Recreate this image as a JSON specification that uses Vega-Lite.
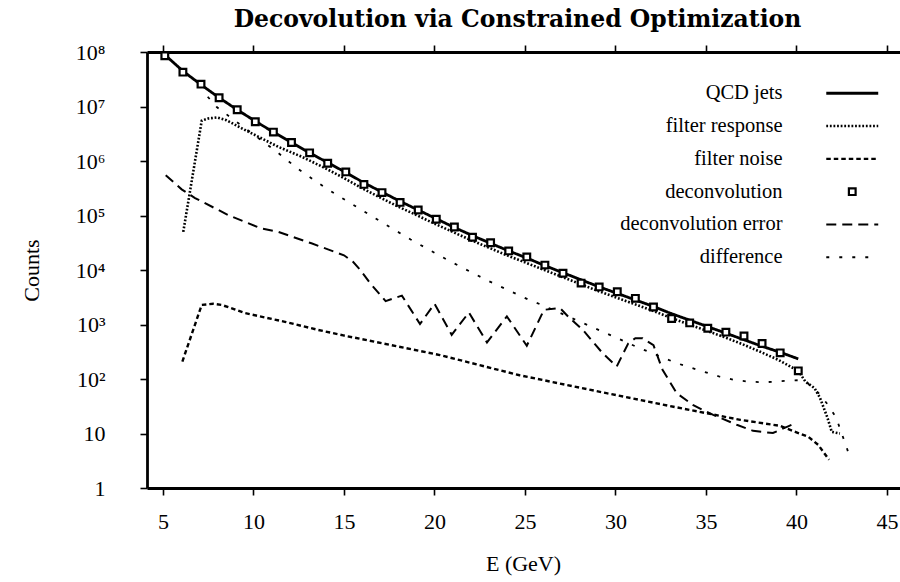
{
  "$schema": "https://vega.github.io/schema/vega-lite/v6.json",
  "width": 753,
  "height": 436,
  "autosize": {"type": "none"},
  "padding": {"left": 147, "top": 52, "right": 0, "bottom": 94},
  "background": "white",
  "title": {"text": "Decovolution via Constrained Optimization", "font": "DejaVu Serif", "fontSize": 23.5, "fontWeight": "bold", "color": "black", "offset": 10, "anchor": "middle", "dx": -6},
  "config": {
    "view": {"stroke": null},
    "axis": {"grid": false, "domainColor": "black", "domainWidth": 2.8, "tickColor": "black", "tickWidth": 1.6, "tickSize": 7, "labelColor": "black", "labelFont": "Liberation Serif", "labelFontSize": 22, "titleColor": "black", "titleFont": "Liberation Serif", "titleFontSize": 22, "titleFontWeight": "normal"}
  },
  "datasets": {
    "lines": [
      {"series": "QCD jets", "E": 5.1, "count": 89000000},
      {"series": "QCD jets", "E": 6.1, "count": 44700000},
      {"series": "QCD jets", "E": 7.1, "count": 25100000},
      {"series": "QCD jets", "E": 8.1, "count": 14500000},
      {"series": "QCD jets", "E": 9.1, "count": 8710000},
      {"series": "QCD jets", "E": 10.1, "count": 5370000},
      {"series": "QCD jets", "E": 11.1, "count": 3390000},
      {"series": "QCD jets", "E": 12.1, "count": 2190000},
      {"series": "QCD jets", "E": 13.1, "count": 1410000},
      {"series": "QCD jets", "E": 14.1, "count": 933000},
      {"series": "QCD jets", "E": 15.1, "count": 617000},
      {"series": "QCD jets", "E": 16.1, "count": 398000},
      {"series": "QCD jets", "E": 17.1, "count": 269000},
      {"series": "QCD jets", "E": 18.1, "count": 182000},
      {"series": "QCD jets", "E": 19.1, "count": 126000},
      {"series": "QCD jets", "E": 20.1, "count": 87100},
      {"series": "QCD jets", "E": 21.1, "count": 60300},
      {"series": "QCD jets", "E": 22.1, "count": 42700},
      {"series": "QCD jets", "E": 23.1, "count": 30900},
      {"series": "QCD jets", "E": 24.1, "count": 22400},
      {"series": "QCD jets", "E": 25.1, "count": 16600},
      {"series": "QCD jets", "E": 26.1, "count": 12000},
      {"series": "QCD jets", "E": 27.1, "count": 8910},
      {"series": "QCD jets", "E": 28.1, "count": 6610},
      {"series": "QCD jets", "E": 29.1, "count": 4900},
      {"series": "QCD jets", "E": 30.1, "count": 3720},
      {"series": "QCD jets", "E": 31.1, "count": 2820},
      {"series": "QCD jets", "E": 32.1, "count": 2140},
      {"series": "QCD jets", "E": 33.1, "count": 1580},
      {"series": "QCD jets", "E": 34.1, "count": 1200},
      {"series": "QCD jets", "E": 35.1, "count": 912},
      {"series": "QCD jets", "E": 36.1, "count": 692},
      {"series": "QCD jets", "E": 37.1, "count": 525},
      {"series": "QCD jets", "E": 38.1, "count": 398},
      {"series": "QCD jets", "E": 39.1, "count": 309},
      {"series": "QCD jets", "E": 40.1, "count": 234},

      {"series": "filter response", "E": 6.12, "count": 50100},
      {"series": "filter response", "E": 7.14, "count": 5500000},
      {"series": "filter response", "E": 7.5, "count": 6030000},
      {"series": "filter response", "E": 8.0, "count": 6310000},
      {"series": "filter response", "E": 8.5, "count": 5620000},
      {"series": "filter response", "E": 9.35, "count": 3980000},
      {"series": "filter response", "E": 10.36, "count": 2690000},
      {"series": "filter response", "E": 11.37, "count": 1820000},
      {"series": "filter response", "E": 12.66, "count": 1200000},
      {"series": "filter response", "E": 13.77, "count": 794000},
      {"series": "filter response", "E": 14.87, "count": 513000},
      {"series": "filter response", "E": 16, "count": 316000},
      {"series": "filter response", "E": 17, "count": 214000},
      {"series": "filter response", "E": 18, "count": 145000},
      {"series": "filter response", "E": 19, "count": 102000},
      {"series": "filter response", "E": 20, "count": 70800},
      {"series": "filter response", "E": 21, "count": 50100},
      {"series": "filter response", "E": 22, "count": 35500},
      {"series": "filter response", "E": 23, "count": 25700},
      {"series": "filter response", "E": 24, "count": 18600},
      {"series": "filter response", "E": 25, "count": 13800},
      {"series": "filter response", "E": 26, "count": 10200},
      {"series": "filter response", "E": 27, "count": 7590},
      {"series": "filter response", "E": 28, "count": 5620},
      {"series": "filter response", "E": 29, "count": 4170},
      {"series": "filter response", "E": 30, "count": 3160},
      {"series": "filter response", "E": 31, "count": 2400},
      {"series": "filter response", "E": 32, "count": 1820},
      {"series": "filter response", "E": 33, "count": 1350},
      {"series": "filter response", "E": 34, "count": 1020},
      {"series": "filter response", "E": 35, "count": 776},
      {"series": "filter response", "E": 36, "count": 589},
      {"series": "filter response", "E": 37, "count": 437},
      {"series": "filter response", "E": 38, "count": 316},
      {"series": "filter response", "E": 39, "count": 224},
      {"series": "filter response", "E": 40.1, "count": 141},
      {"series": "filter response", "E": 40.5, "count": 89},
      {"series": "filter response", "E": 41.0, "count": 68},
      {"series": "filter response", "E": 41.3, "count": 45},
      {"series": "filter response", "E": 41.7, "count": 20},
      {"series": "filter response", "E": 41.95, "count": 10.7},
      {"series": "filter response", "E": 42.4, "count": 10},

      {"series": "filter noise", "E": 6.07, "count": 209},
      {"series": "filter noise", "E": 7.14, "count": 2290},
      {"series": "filter noise", "E": 7.78, "count": 2400},
      {"series": "filter noise", "E": 8.24, "count": 2290},
      {"series": "filter noise", "E": 9.53, "count": 1620},
      {"series": "filter noise", "E": 11.74, "count": 1120},
      {"series": "filter noise", "E": 13.58, "count": 794},
      {"series": "filter noise", "E": 14.96, "count": 631},
      {"series": "filter noise", "E": 20.3, "count": 275},
      {"series": "filter noise", "E": 24.7, "count": 117},
      {"series": "filter noise", "E": 26, "count": 95.5},
      {"series": "filter noise", "E": 29.5, "count": 55},
      {"series": "filter noise", "E": 33.2, "count": 31},
      {"series": "filter noise", "E": 36.9, "count": 17.8},
      {"series": "filter noise", "E": 39.1, "count": 13.8},
      {"series": "filter noise", "E": 40.0, "count": 10.5},
      {"series": "filter noise", "E": 40.65, "count": 8.7},
      {"series": "filter noise", "E": 41.2, "count": 6.2},
      {"series": "filter noise", "E": 41.8, "count": 3.3},

      {"series": "deconvolution error", "E": 5.15, "count": 550000},
      {"series": "deconvolution error", "E": 6.03, "count": 302000},
      {"series": "deconvolution error", "E": 6.77, "count": 209000},
      {"series": "deconvolution error", "E": 8.6, "count": 102000},
      {"series": "deconvolution error", "E": 10.36, "count": 58900},
      {"series": "deconvolution error", "E": 11.37, "count": 50100},
      {"series": "deconvolution error", "E": 13.2, "count": 30900},
      {"series": "deconvolution error", "E": 15.0, "count": 18600},
      {"series": "deconvolution error", "E": 15.5, "count": 14100},
      {"series": "deconvolution error", "E": 15.9, "count": 10000},
      {"series": "deconvolution error", "E": 16.44, "count": 5750},
      {"series": "deconvolution error", "E": 17.3, "count": 2690},
      {"series": "deconvolution error", "E": 18.2, "count": 3390},
      {"series": "deconvolution error", "E": 19.2, "count": 1020},
      {"series": "deconvolution error", "E": 20.0, "count": 2400},
      {"series": "deconvolution error", "E": 20.95, "count": 646},
      {"series": "deconvolution error", "E": 21.9, "count": 1660},
      {"series": "deconvolution error", "E": 22.9, "count": 468},
      {"series": "deconvolution error", "E": 24.0, "count": 1410},
      {"series": "deconvolution error", "E": 25.1, "count": 407},
      {"series": "deconvolution error", "E": 26.05, "count": 1860},
      {"series": "deconvolution error", "E": 26.94, "count": 2000},
      {"series": "deconvolution error", "E": 27.4, "count": 1380},
      {"series": "deconvolution error", "E": 28.2, "count": 794},
      {"series": "deconvolution error", "E": 29.3, "count": 295},
      {"series": "deconvolution error", "E": 30.07, "count": 170},
      {"series": "deconvolution error", "E": 30.7, "count": 447},
      {"series": "deconvolution error", "E": 31.1, "count": 562},
      {"series": "deconvolution error", "E": 31.5, "count": 562},
      {"series": "deconvolution error", "E": 32.1, "count": 417},
      {"series": "deconvolution error", "E": 32.6, "count": 148},
      {"series": "deconvolution error", "E": 33.38, "count": 55},
      {"series": "deconvolution error", "E": 34.3, "count": 33},
      {"series": "deconvolution error", "E": 35.4, "count": 21.9},
      {"series": "deconvolution error", "E": 36.7, "count": 14.5},
      {"series": "deconvolution error", "E": 37.6, "count": 11.2},
      {"series": "deconvolution error", "E": 38.7, "count": 10.2},
      {"series": "deconvolution error", "E": 39.6, "count": 13.8},
      {"series": "deconvolution error", "E": 40.0, "count": 15.8},

      {"series": "difference", "E": 7.47, "count": 15100000},
      {"series": "difference", "E": 7.97, "count": 9770000},
      {"series": "difference", "E": 11.28, "count": 1480000},
      {"series": "difference", "E": 12.48, "count": 708000},
      {"series": "difference", "E": 13.83, "count": 347000},
      {"series": "difference", "E": 14.5, "count": 251000},
      {"series": "difference", "E": 16.58, "count": 95500},
      {"series": "difference", "E": 18.68, "count": 36300},
      {"series": "difference", "E": 20.8, "count": 14800},
      {"series": "difference", "E": 22.97, "count": 6310},
      {"series": "difference", "E": 25.18, "count": 2880},
      {"series": "difference", "E": 25.92, "count": 2290},
      {"series": "difference", "E": 28.87, "count": 851},
      {"series": "difference", "E": 31.17, "count": 389},
      {"series": "difference", "E": 33.38, "count": 195},
      {"series": "difference", "E": 35.77, "count": 110},
      {"series": "difference", "E": 36.6, "count": 95.5},
      {"series": "difference", "E": 37.43, "count": 89},
      {"series": "difference", "E": 38.26, "count": 87},
      {"series": "difference", "E": 39.05, "count": 91},
      {"series": "difference", "E": 40.1, "count": 95},
      {"series": "difference", "E": 40.6, "count": 85},
      {"series": "difference", "E": 41.2, "count": 56},
      {"series": "difference", "E": 41.7, "count": 35},
      {"series": "difference", "E": 42.18, "count": 20},
      {"series": "difference", "E": 42.7, "count": 6.5},
      {"series": "difference", "E": 42.96, "count": 3.6}
    ],
    "points": [
      {"series": "deconvolution", "E": 5.1, "count": 85100000},
      {"series": "deconvolution", "E": 6.1, "count": 42700000},
      {"series": "deconvolution", "E": 7.1, "count": 25700000},
      {"series": "deconvolution", "E": 8.1, "count": 14500000},
      {"series": "deconvolution", "E": 9.1, "count": 8710000},
      {"series": "deconvolution", "E": 10.1, "count": 5250000},
      {"series": "deconvolution", "E": 11.1, "count": 3390000},
      {"series": "deconvolution", "E": 12.1, "count": 2190000},
      {"series": "deconvolution", "E": 13.1, "count": 1410000},
      {"series": "deconvolution", "E": 14.1, "count": 912000},
      {"series": "deconvolution", "E": 15.1, "count": 631000},
      {"series": "deconvolution", "E": 16.1, "count": 372000},
      {"series": "deconvolution", "E": 17.1, "count": 263000},
      {"series": "deconvolution", "E": 18.1, "count": 174000},
      {"series": "deconvolution", "E": 19.1, "count": 126000},
      {"series": "deconvolution", "E": 20.1, "count": 85100},
      {"series": "deconvolution", "E": 21.1, "count": 61700},
      {"series": "deconvolution", "E": 22.1, "count": 39800},
      {"series": "deconvolution", "E": 23.1, "count": 31600},
      {"series": "deconvolution", "E": 24.1, "count": 22400},
      {"series": "deconvolution", "E": 25.1, "count": 17400},
      {"series": "deconvolution", "E": 26.1, "count": 12300},
      {"series": "deconvolution", "E": 27.1, "count": 8710},
      {"series": "deconvolution", "E": 28.1, "count": 5750},
      {"series": "deconvolution", "E": 29.1, "count": 4900},
      {"series": "deconvolution", "E": 30.1, "count": 3980},
      {"series": "deconvolution", "E": 31.1, "count": 3020},
      {"series": "deconvolution", "E": 32.1, "count": 2090},
      {"series": "deconvolution", "E": 33.1, "count": 1290},
      {"series": "deconvolution", "E": 34.1, "count": 1070},
      {"series": "deconvolution", "E": 35.1, "count": 851},
      {"series": "deconvolution", "E": 36.1, "count": 724},
      {"series": "deconvolution", "E": 37.1, "count": 617},
      {"series": "deconvolution", "E": 38.1, "count": 447},
      {"series": "deconvolution", "E": 39.1, "count": 302},
      {"series": "deconvolution", "E": 40.1, "count": 141}
    ]
  },
  "layer": [
    {
      "data": {"name": "lines"},
      "mark": {"type": "line", "color": "black", "strokeCap": "butt"},
      "encoding": {
        "x": {"field": "E", "type": "quantitative", "scale": {"domain": [4.116, 45.72], "nice": false, "zero": false},
          "axis": {"orient": "bottom", "values": [5, 10, 15, 20, 25, 30, 35, 40, 45], "labelPadding": 16, "title": "E (GeV)", "titleX": 376, "titleY": 75, "titleBaseline": "middle",
            "encode": {"ticks": {"update": {"y2": {"value": -7}}}}}},
        "y": {"field": "count", "type": "quantitative", "scale": {"type": "log", "domain": [1, 100000000], "nice": false},
          "axis": {"orient": "left", "values": [1, 10, 100, 1000, 10000, 100000, 1000000, 10000000, 100000000], "labelPadding": 35,
            "labelExpr": "datum.value < 5 ? '1' : datum.value < 50 ? '10' : '10' + ['','','²','³','⁴','⁵','⁶','⁷','⁸'][round(log(datum.value)/LN10)]",
            "title": "Counts", "titleX": -116, "titleY": 218, "titleAngle": -90, "titleBaseline": "middle", "titleAlign": "center",
            "encode": {"ticks": {"update": {"x2": {"value": 7}}}}}},
        "strokeDash": {"field": "series", "type": "nominal",
          "scale": {"domain": ["QCD jets", "filter response", "filter noise", "deconvolution", "deconvolution error", "difference"],
            "range": [[1, 0], [1.8, 1.8], [4.5, 3], [1, 0], [10, 6], [3, 10]]},
          "legend": {"title": null, "orient": "none", "legendX": 695, "legendY": 31, "direction": "vertical", "padding": 0,
            "symbolType": "M-4.33,0H4.33", "symbolSize": 144, "symbolStrokeColor": "black", "symbolStrokeWidth": 2, "symbolFillColor": "transparent",
            "labelFont": "Liberation Serif", "labelFontSize": 20.5, "labelColor": "black", "labelAlign": "right", "labelOffset": -80, "labelLimit": 400, "rowPadding": 11.8,
            "encode": {"symbols": {"update": {
              "shape": {"signal": "datum.value === 'deconvolution' ? 'square' : 'M-4.33,0H4.33'"},
              "size": {"signal": "datum.value === 'deconvolution' ? 45 : 144"},
              "fill": {"signal": "datum.value === 'deconvolution' ? 'white' : 'transparent'"},
              "stroke": {"value": "black"},
              "strokeWidth": {"signal": "datum.value === 'QCD jets' ? 2.8 : datum.value === 'filter response' ? 1.8 : datum.value === 'filter noise' ? 3 : datum.value === 'deconvolution error' ? 3.2 : datum.value === 'deconvolution' ? 2.2 : 3"}
            }}}}},
        "strokeWidth": {"field": "series", "type": "nominal",
          "scale": {"domain": ["QCD jets", "filter response", "filter noise", "deconvolution", "deconvolution error", "difference"],
            "range": [2.8, 1.8, 3, 2, 3.2, 3]}, "legend": null}
      }
    },
    {
      "data": {"name": "points"},
      "mark": {"type": "point", "shape": "square", "filled": false, "fill": "white", "fillOpacity": 1, "stroke": "black", "strokeWidth": 2.2, "size": 45, "opacity": 1},
      "encoding": {
        "x": {"field": "E", "type": "quantitative", "scale": {"domain": [4.116, 45.72], "nice": false, "zero": false},
          "axis": {"orient": "top", "values": [5, 10, 15, 20, 25, 30, 35, 40, 45], "labels": false, "title": null, "domainWidth": 3.2,
            "encode": {"ticks": {"update": {"y2": {"value": 7}}}}}},
        "y": {"field": "count", "type": "quantitative", "scale": {"type": "log", "domain": [1, 100000000], "nice": false},
          "axis": {"orient": "right", "values": [1, 10, 100, 1000, 10000, 100000, 1000000, 10000000, 100000000], "labels": false, "title": null, "domain": false,
            "encode": {"ticks": {"update": {"x2": {"value": -7}}}}}}
      }
    }
  ],
  "resolve": {"axis": {"x": "independent", "y": "independent"}}
}
